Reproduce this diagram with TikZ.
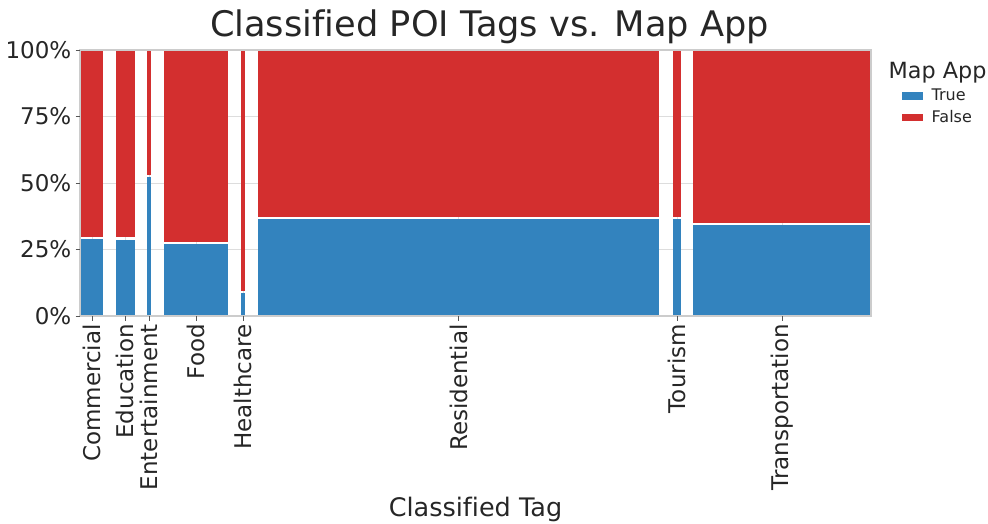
\documentclass[tikz,border=0pt]{standalone}
\usepackage{fontspec}
\setmainfont[Ligatures=NoCommon]{DejaVu Sans}
\definecolor{truebar}{HTML}{3383BE}
\definecolor{falsebar}{HTML}{D32F2F}
\definecolor{ink}{HTML}{262626}
\definecolor{gridc}{HTML}{DDDDDD}
\definecolor{framec}{HTML}{CCCCCC}
\definecolor{tickc}{HTML}{555555}
\tikzset{
  gridline/.style={draw=gridc, line width=1pt},
  axisframe/.style={draw=framec, line width=1.2pt},
  tickmark/.style={draw=tickc, line width=0.9pt},
  ticklabel/.style={text=ink, inner sep=0pt, font=\fontsize{23}{27}\selectfont},
  xticklabel/.style={ticklabel, rotate=90, anchor=east},
  yticklabel/.style={ticklabel, anchor=east},
  titletext/.style={text=ink, inner sep=0pt, font=\fontsize{35.2}{41}\selectfont},
  axislabel/.style={text=ink, inner sep=0pt, font=\fontsize{25.5}{30}\selectfont},
  legendtitle/.style={text=ink, inner sep=0pt, font=\fontsize{22.3}{27}\selectfont},
  legendtext/.style={text=ink, inner sep=0pt, font=\fontsize{16}{19}\selectfont},
}
\begin{document}
\begin{tikzpicture}[x=1pt, y=-1pt]
\useasboundingbox (0,0) rectangle (988,523);

% horizontal grid at 25/50/75 %
\foreach \gy in {116.5,183,249.5}
  \draw[gridline] (80,\gy) -- (871,\gy);
% vertical grid at category centres
\foreach \gx in {92,125.3,149,196.2,243,458.8,677,782.3}
  \draw[gridline] (\gx,50) -- (\gx,316);

% mosaic bars: left/right/split (share of True from the bottom)
\foreach \xa/\xb/\sy in {80.7/103.3/238, 116/134.7/238.5, 147.3/150.7/176,
    164/228.3/243.3, 241/245/292.3, 258.3/659.3/218.3, 672.7/681.3/218,
    693.3/871/224} {
  \fill[falsebar] (\xa,50) rectangle (\xb,\sy-1.1);
  \fill[truebar] (\xa,\sy+1.1) rectangle (\xb,316);
}

% axes frame
\draw[axisframe] (80,50) rectangle (871,316);

% y axis ticks and labels
\foreach \gy/\lab/\nm in {50/100\%/ya, 116.5/75\%/yb, 183/50\%/yc, 249.5/25\%/yd, 316/0\%/ye} {
  \draw[tickmark] (75.5,\gy) -- (80,\gy);
  \node[yticklabel] (\nm) at (71.5,\gy) {\lab};
}

% x axis ticks and labels
\foreach \gx/\lab/\nm in {92/Commercial/xa, 125.3/Education/xb, 149/Entertainment/xc,
    196.2/Food/xd, 243/Healthcare/xe, 458.8/Residential/xf, 677/Tourism/xg,
    782.3/Transportation/xh} {
  \draw[tickmark] (\gx,316) -- (\gx,320.5);
  \node[xticklabel] (\nm) at (\gx,324) {\lab};
}

% title and axis label
\node[titletext, anchor=base] (title) at (489.5,36.7) {Classified POI Tags vs. Map App};
\node[axislabel, anchor=base] (xlabel) at (475.5,516) {Classified Tag};

% legend
\node[legendtitle, anchor=base west] (legtitle) at (888.5,78.3) {Map App};
\fill[truebar] (902,92) rectangle (923,100);
\fill[falsebar] (902,113.5) rectangle (923,121);
\node[legendtext, anchor=base west] (legtrue) at (931.5,100.5) {True};
\node[legendtext, anchor=base west] (legfalse) at (931.5,122) {False};
\end{tikzpicture}
\end{document}
